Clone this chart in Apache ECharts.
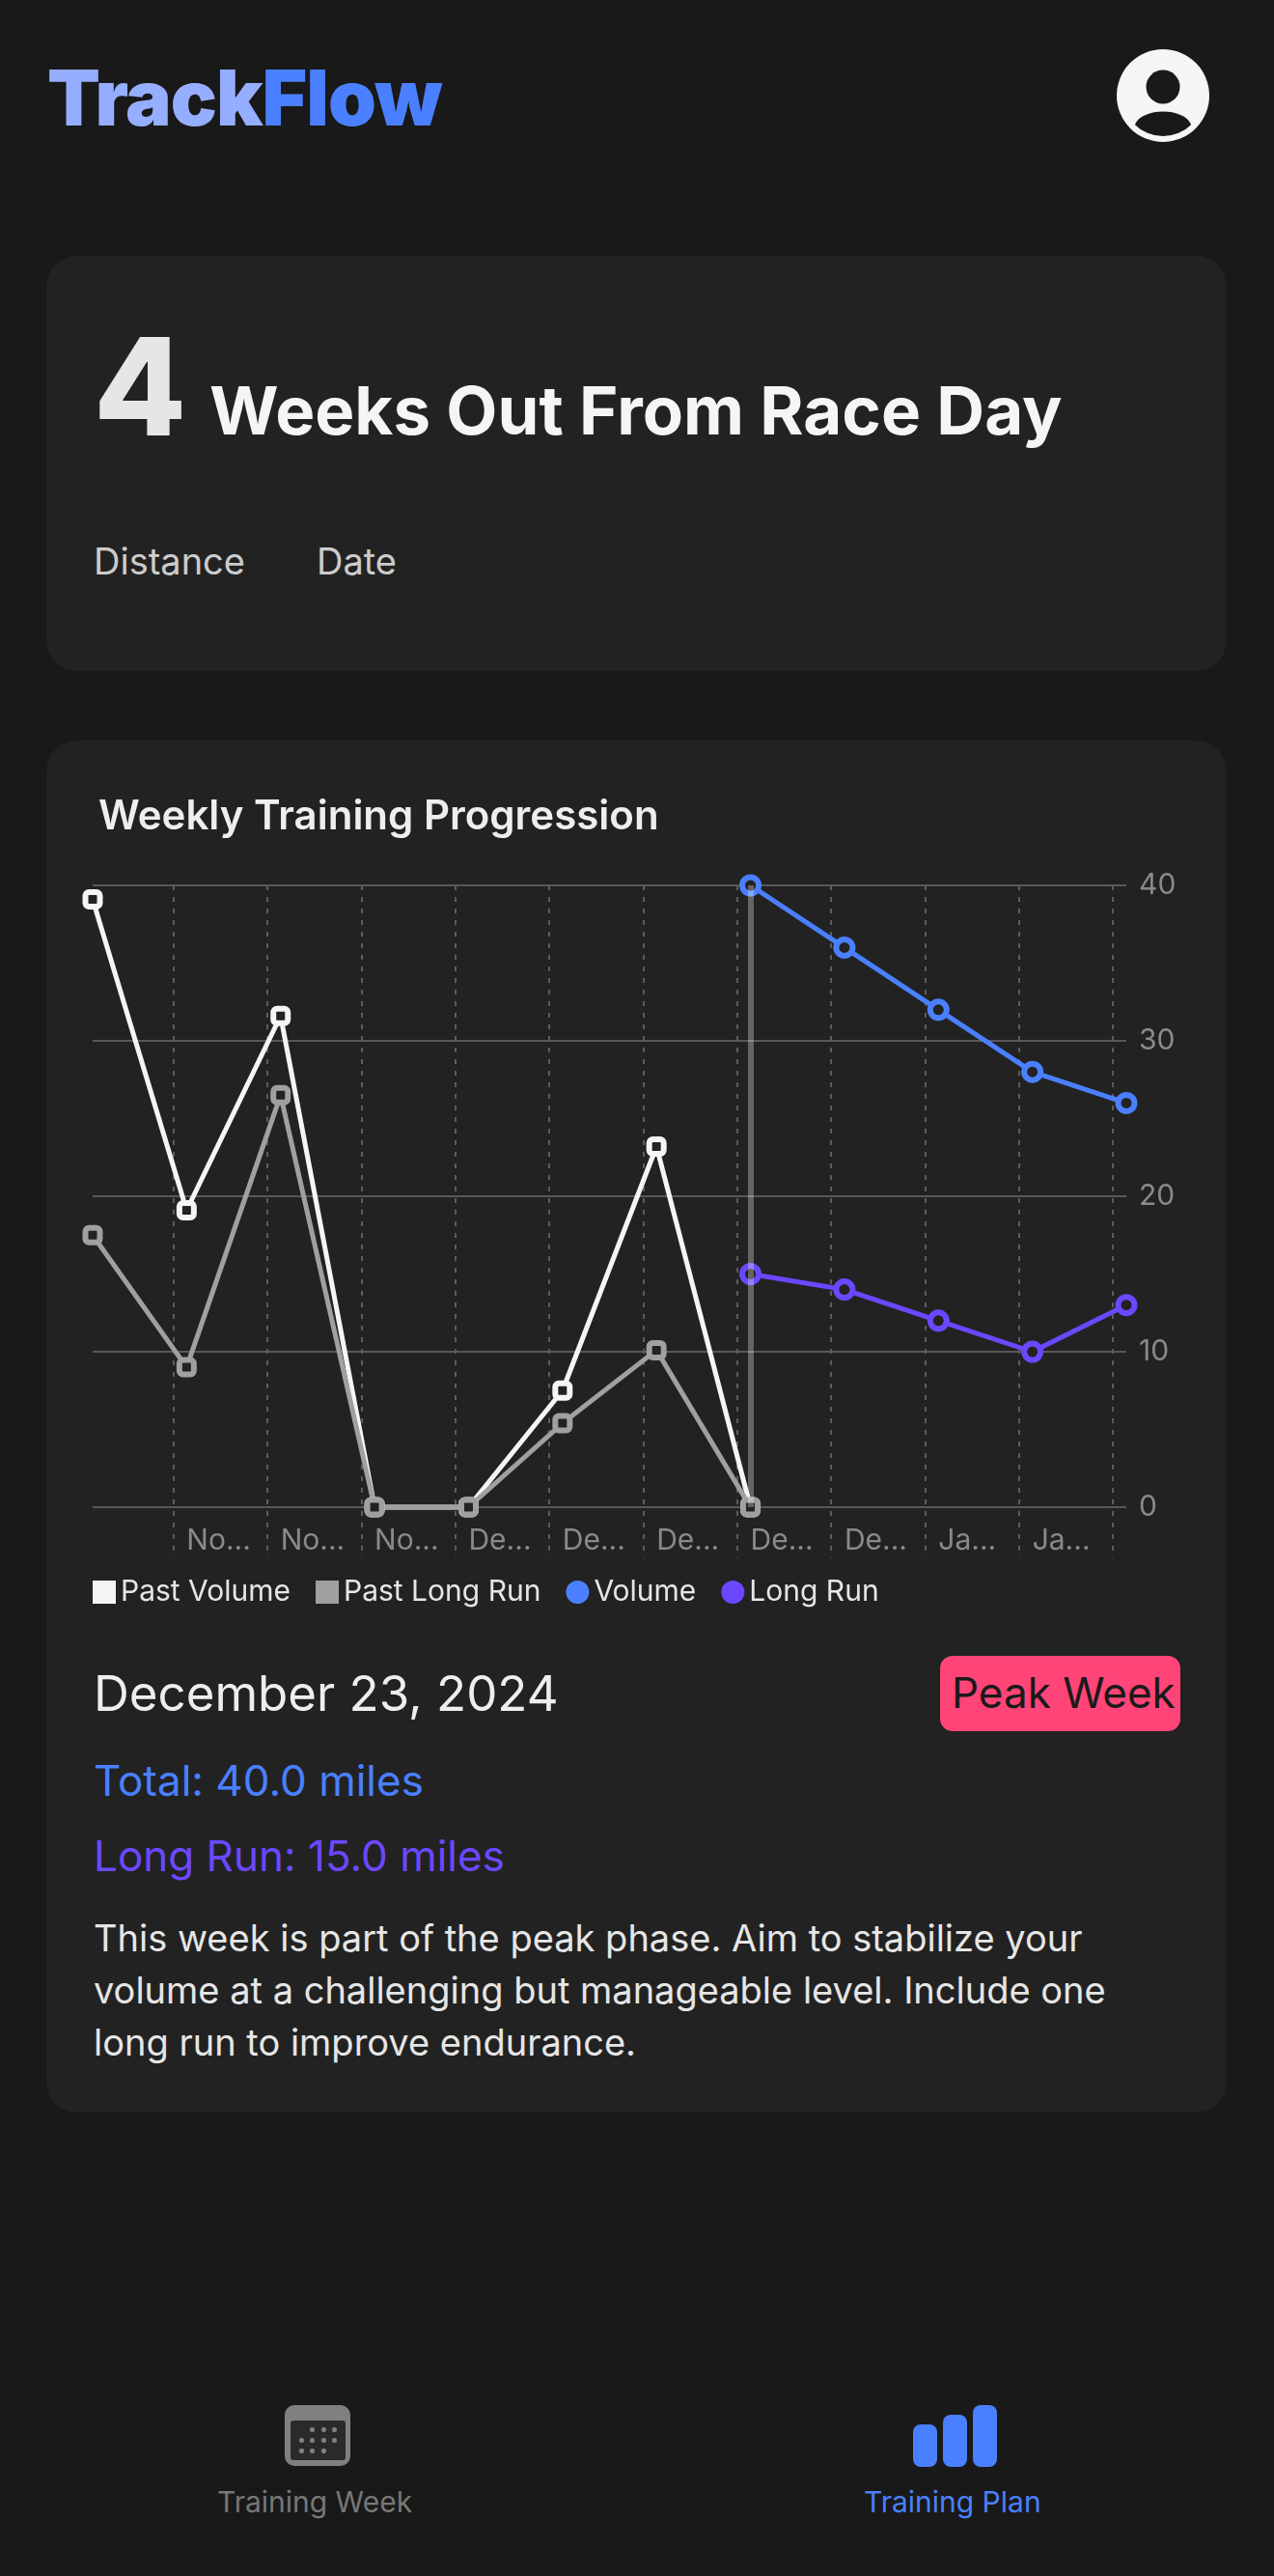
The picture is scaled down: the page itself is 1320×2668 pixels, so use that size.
<!DOCTYPE html>
<html>
<head>
<meta charset="utf-8">
<title>TrackFlow</title>
<script src="https://cdn.jsdelivr.net/npm/echarts@6/dist/echarts.min.js"></script>
<style>
html, body { margin: 0; padding: 0; background: #191919; }
body { position: relative; width: 1320px; height: 2668px; overflow: hidden; font-family: Inter, "Noto Sans", sans-serif; }
.card { position: absolute; left: 48px; width: 1223px; background: #222222; border-radius: 32px; }
.t { position: absolute; line-height: 1; white-space: nowrap; }
.icon { position: absolute; left: 0; top: 0; }
#chart { position: absolute; left: 0; top: 800px; width: 1320px; height: 880px; }
</style>
</head>
<body>
<div class="card" style="top:265px;height:430px"></div>
<div class="card" style="top:767px;height:1421px"></div>

<div class="t" style="left:49px;top:61px;font-size:80px;font-weight:900;letter-spacing:-1px;color:#96aeff">Track<span style="color:#4a80ff">Flow</span></div>

<div class="t" style="left:97px;top:330px;font-size:140px;font-weight:800;color:#e6e6e6">4</div>
<div class="t" style="left:217px;top:391px;font-size:69px;font-weight:700;color:#f5f5f5">Weeks Out From Race Day</div>
<div class="t" style="left:97px;top:562px;font-size:38px;color:#cccccc">Distance</div>
<div class="t" style="left:328px;top:562px;font-size:38px;color:#cccccc">Date</div>

<div id="chart"></div>

<div class="t" style="left:97px;top:1728px;font-size:51px;color:#eeeeee">December 23, 2024</div>
<div style="position:absolute;left:974px;top:1715px;width:249px;height:78px;background:#ff4477;border-radius:13px"></div>
<div class="t" style="left:986px;top:1731px;font-size:44px;color:#1a1a1a">Peak Week</div>
<div class="t" style="left:97px;top:1822px;font-size:44px;color:#4a80ff">Total: 40.0 miles</div>
<div class="t" style="left:97px;top:1900px;font-size:44px;color:#6b48ff">Long Run: 15.0 miles</div>
<div class="t" style="left:97px;top:1980px;font-size:38px;line-height:54px;color:#e6e6e6">This week is part of the peak phase. Aim to stabilize your<br>volume at a challenging but manageable level. Include one<br>long run to improve endurance.</div>

<div class="t" style="left:225px;top:2576px;font-size:30px;color:#777777">Training Week</div>
<div class="t" style="left:895px;top:2576px;font-size:30px;color:#4a80ff">Training Plan</div>

<svg class="icon" width="1320" height="2668">
  <!-- avatar -->
  <clipPath id="face"><circle cx="1205" cy="99" r="42"/></clipPath>
  <circle cx="1205" cy="99" r="48" fill="#f5f5f5"/>
  <circle cx="1205" cy="90" r="17.5" fill="#191919"/>
  <path d="M1176 129 C1183 111 1227 111 1234 129 L1234 145 L1176 145 Z" fill="#191919" clip-path="url(#face)"/>
  <!-- calendar -->
  <rect x="295" y="2491" width="68" height="63" rx="10" fill="#808080"/>
  <rect x="301" y="2507" width="57" height="41" rx="3" fill="#2a2a2a"/>
  <g fill="#808080">
    <rect x="321" y="2514" width="5" height="5" rx="2"/><rect x="333" y="2514" width="5" height="5" rx="2"/><rect x="344" y="2514" width="5" height="5" rx="2"/>
    <rect x="310" y="2525" width="5" height="5" rx="2"/><rect x="321" y="2525" width="5" height="5" rx="2"/><rect x="333" y="2525" width="5" height="5" rx="2"/><rect x="344" y="2525" width="5" height="5" rx="2"/>
    <rect x="310" y="2536" width="5" height="5" rx="2"/><rect x="321" y="2536" width="5" height="5" rx="2"/><rect x="333" y="2536" width="5" height="5" rx="2"/>
  </g>
  <!-- plan bars -->
  <g fill="#4a80ff">
    <rect x="946" y="2511" width="25" height="44" rx="8"/>
    <rect x="977" y="2501" width="25" height="54" rx="8"/>
    <rect x="1008" y="2491" width="25" height="64" rx="8"/>
  </g>
</svg>

<script>
var weekLabels = ['', 'No...', 'No...', 'No...', 'De...', 'De...', 'De...', 'De...', 'De...', 'Ja...', 'Ja...', ''];
var yTicks = [0, 10, 20, 30, 40];
var pastVolume = [39.1, 19.1, 31.6, 0, 0, 7.5, 23.2, 0, null, null, null, null];
var pastLongRun = [17.5, 9, 26.5, 0, 0, 5.4, 10.1, 0, null, null, null, null];
var volume = [null, null, null, null, null, null, null, 40, 36, 32, 28, 26];
var longRun = [null, null, null, null, null, null, null, 15, 14, 12, 10, 13];
var selectedWeek = 7;

var WHITE = '#f5f5f5', GREY = '#a0a0a0', BLUE = '#4a80ff', PURPLE = '#6b48ff', CARD = '#222222';
var LABEL_FONT = { fontFamily: 'Inter', fontSize: 30, color: '#8a8a8a' };

function lineSeries(name, data, color, symbol, size) {
	return {
		name: name,
		type: 'line',
		data: data,
		xAxisIndex: 0,
		yAxisIndex: 0,
		clip: false,
		symbol: symbol,
		symbolSize: size,
		showAllSymbol: true,
		lineStyle: { color: color, width: 5 },
		itemStyle: { color: CARD, borderColor: color, borderWidth: 6, opacity: 1 }
	};
}

var chart = echarts.init(document.getElementById('chart'));

var series = [
	lineSeries('Past Volume', pastVolume, WHITE, 'roundRect', 15),
	lineSeries('Past Long Run', pastLongRun, GREY, 'roundRect', 15),
	lineSeries('Volume', volume, BLUE, 'circle', 17),
	lineSeries('Long Run', longRun, PURPLE, 'circle', 17)
];
// 当前选中周的竖线
series[3].markLine = {
	silent: true,
	symbol: 'none',
	animation: false,
	label: { show: false },
	lineStyle: { color: 'rgba(255,255,255,0.3)', width: 6, type: 'solid' },
	data: [{ xAxis: selectedWeek }]
};

chart.setOption({
	animation: false,
	backgroundColor: 'transparent',
	title: {
		text: 'Weekly Training Progression',
		left: 97,
		top: 20,
		textStyle: { fontFamily: 'Inter', fontSize: 42, fontWeight: 600, color: '#eeeeee' }
	},
	legend: {
		left: 96,
		top: 834,
		padding: 0,
		itemWidth: 24,
		itemHeight: 24,
		itemGap: 26,
		textStyle: { fontFamily: 'Inter', fontSize: 30, color: '#e6e6e6', padding: [0, 0, 0, 0] },
		data: [
			{ name: 'Past Volume', icon: 'rect', itemStyle: { color: WHITE, borderWidth: 0 } },
			{ name: 'Past Long Run', icon: 'rect', itemStyle: { color: GREY, borderWidth: 0 } },
			{ name: 'Volume', icon: 'circle', itemStyle: { color: BLUE, borderWidth: 0 } },
			{ name: 'Long Run', icon: 'circle', itemStyle: { color: PURPLE, borderWidth: 0 } }
		]
	},
	grid: [
		{ left: 96, right: 153, top: 117, bottom: 119 },
		// 虚线网格比数据区更长，单独一个 grid
		{ left: 179.6, right: 166.8, top: 117, bottom: 66.5 }
	],
	xAxis: [
		{
			type: 'category',
			gridIndex: 0,
			data: weekLabels,
			boundaryGap: false,
			axisLine: { show: false },
			axisTick: { show: false },
			axisLabel: Object.assign({ interval: 0, align: 'left', verticalAlign: 'top', margin: 20 }, LABEL_FONT)
		},
		{
			type: 'value',
			gridIndex: 1,
			min: 0,
			max: 10,
			interval: 1,
			axisLine: { show: false },
			axisTick: { show: false },
			axisLabel: { show: false },
			splitLine: { show: true, lineStyle: { color: '#5c5c5c', width: 2, type: [5, 7] } }
		}
	],
	yAxis: [
		{
			type: 'value',
			gridIndex: 0,
			position: 'right',
			min: yTicks[0],
			max: yTicks[yTicks.length - 1],
			interval: 10,
			axisLine: { show: false },
			axisTick: { show: false },
			axisLabel: Object.assign({ margin: 13 }, LABEL_FONT),
			splitLine: { lineStyle: { color: '#585858', width: 2 } }
		},
		{
			type: 'value',
			gridIndex: 1,
			min: 0,
			max: 1,
			show: false
		}
	],
	series: series
});
</script>
</body>
</html>
